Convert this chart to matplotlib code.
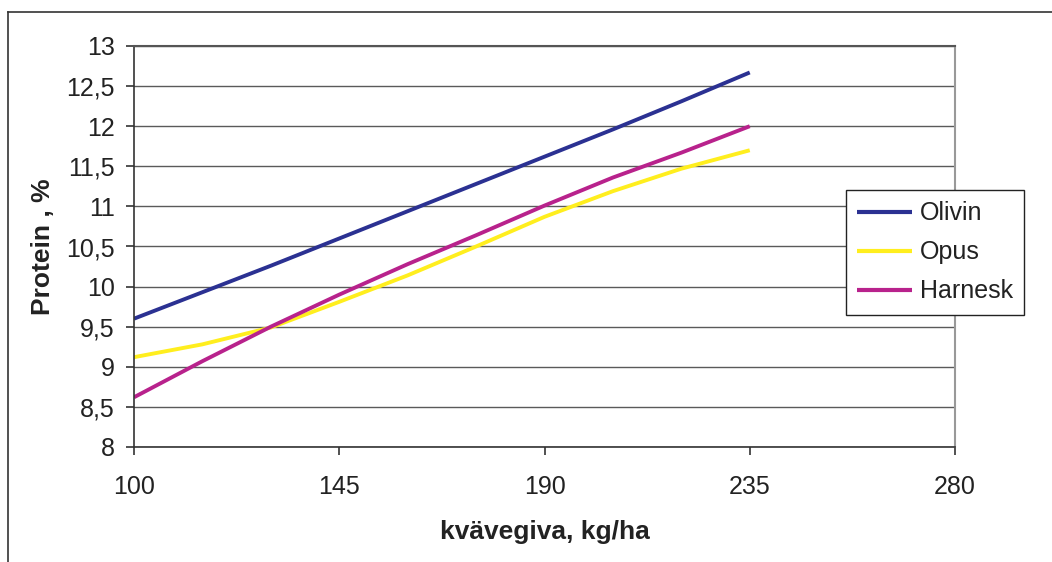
import matplotlib
matplotlib.use("Agg")
import matplotlib.pyplot as plt
import matplotlib.ticker as plticker
from matplotlib.lines import Line2D

plt.rcParams['font.family'] = ['Liberation Sans', 'DejaVu Sans']

# kvävegiva (kg/ha) och proteinhalt (%) per sort
kvave = [100, 115, 130, 145, 160, 175, 190, 205, 220, 235]
olivin = [9.60, 9.93, 10.26, 10.60, 10.94, 11.28, 11.62, 11.96, 12.31, 12.67]
opus = [9.12, 9.28, 9.49, 9.81, 10.14, 10.50, 10.87, 11.19, 11.47, 11.70]
harnesk = [8.62, 9.07, 9.50, 9.90, 10.28, 10.64, 11.01, 11.36, 11.67, 12.00]

serier = ['Olivin', 'Opus', 'Harnesk']
farger = ['#2B3192', '#FFEE1E', '#B8228C']

x_ticks = [100, 145, 190, 235, 280]

fig = plt.figure(figsize=(10.52, 5.62), dpi=100)
ax = fig.add_axes([134/1052, 1-447/562, (955-134)/1052, (447-46)/562])

for namn, data, farg in zip(serier, [olivin, opus, harnesk], farger):
	ax.plot(kvave, data, color=farg, linewidth=2.8, label=namn, solid_capstyle='butt')

ax.set_xlim(100, 280)
ax.set_ylim(8, 13)
ax.set_xticks(x_ticks)
ax.yaxis.set_major_locator(plticker.MultipleLocator(0.5))
ax.yaxis.set_major_formatter(plticker.FuncFormatter(lambda v, p: ('%g' % v).replace('.', ',')))

ax.grid(axis='y', color='#5a5a5a', linewidth=1.0)
ax.set_axisbelow(True)
for s in ['top', 'right']:
	ax.spines[s].set_color('#999999')
	ax.spines[s].set_linewidth(1.5)
ax.spines['top'].set_color('#555555')
for s in ['left', 'bottom']:
	ax.spines[s].set_color('#333333')
	ax.spines[s].set_linewidth(1.2)

ax.tick_params(axis='both', direction='out', length=6, width=1.2, color='#333333',
	labelsize=18, labelcolor='#222222')
ax.tick_params(axis='y', pad=8)
ax.tick_params(axis='x', pad=14)

ax.set_xlabel('kvävegiva, kg/ha', fontsize=19, fontweight='bold', color='#222222', labelpad=15)
ax.set_ylabel('Protein , %', fontsize=19, fontweight='bold', color='#222222', labelpad=8)

leg = fig.legend(loc='upper left', bbox_to_anchor=(846/1052, 1-190/562), fontsize=18,
	frameon=True, fancybox=False, edgecolor='#222222', framealpha=1,
	handlelength=2.2, handletextpad=0.3, labelspacing=0.6, borderpad=0.45, borderaxespad=0)
leg.get_frame().set_linewidth(1.0)
for t in leg.get_texts():
	t.set_color('#222222')
for h in leg.get_lines():
	h.set_linewidth(3.0)

# ram runt hela diagramytan
fig.add_artist(Line2D([8/1052, 1.0], [1-12/562, 1-12/562], color='#333333', linewidth=1.2))
fig.add_artist(Line2D([8/1052, 8/1052], [0.0, 1-12/562], color='#333333', linewidth=1.2))

fig.savefig('out.png', dpi=100)
